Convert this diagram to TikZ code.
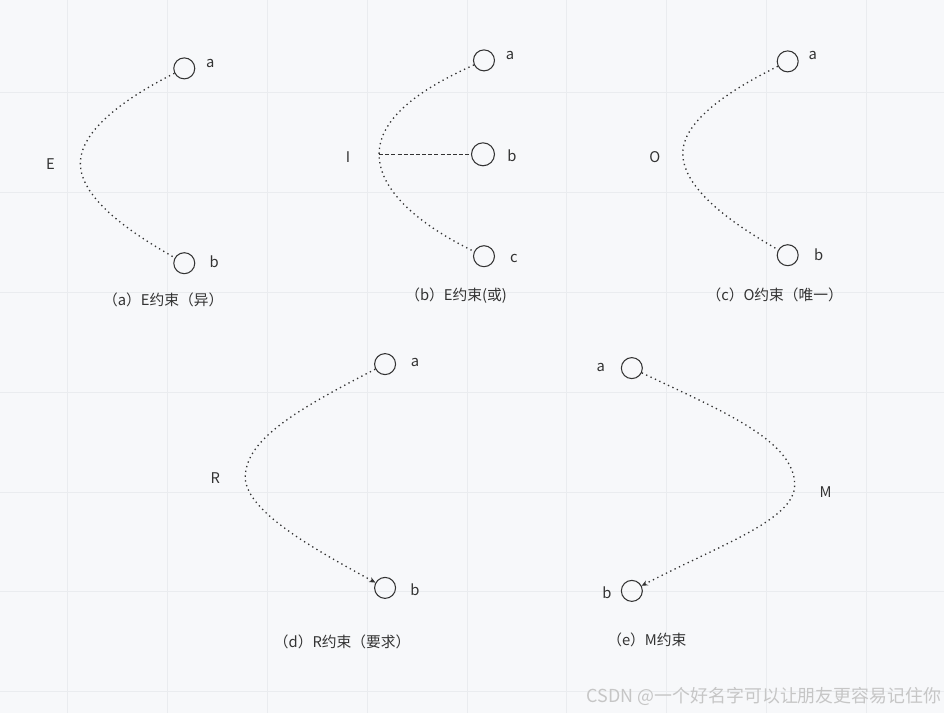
\documentclass[tikz,border=0pt]{standalone}
\usepackage{fontspec}
\setmainfont{Noto Sans CJK SC}
\usetikzlibrary{arrows.meta}

\definecolor{bgc}{HTML}{F7F8FA}
\definecolor{gridc}{HTML}{EAECEF}
\definecolor{ink}{HTML}{333333}
\definecolor{wmark}{HTML}{C6C6C6}

\tikzset{
  ent/.style={circle, draw=ink, line width=0.6pt, minimum size=0.42cm, inner sep=0pt},
  lbl/.style={text=ink, inner sep=0pt, font=\fontsize{8.4pt}{10pt}\selectfont},
  link/.style={draw=ink, line width=0.75pt, dash pattern=on 0.75pt off 2pt},
  dlink/.style={draw=ink, line width=0.6pt, dash pattern=on 2.3pt off 1.2pt},
  tip/.style={-{Stealth[length=3.5pt,width=3pt]}},
}

\begin{document}
\begin{tikzpicture}[x=0.02cm, y=-0.02cm]

% Tlo i siatka
\fill[bgc] (0,0) rectangle (944,713);
\foreach \gx in {67,167,...,867}
  \draw[gridc, line width=0.5pt] (\gx,0) -- (\gx,713);
\foreach \gy in {92,192,...,692}
  \draw[gridc, line width=0.5pt] (0,\gy) -- (944,\gy);
\useasboundingbox (0,0) rectangle (944,713);

% (a) E
\node[ent] (a1) at (184,68) {};
\node[ent] (b1) at (184,263) {};
\coordinate (v1) at (80,163);
\node[lbl] (la1) at (210,63) {a};
\node[lbl] (lb1) at (214,262) {b};
\node[lbl] (e1) at (50,164) {E};
\draw[link] (a1) .. controls (140,90) and (80,125) .. (v1)
  .. controls (80,200) and (135,235) .. (b1);
\node[lbl] (cap1) at (163,300) {（a）E约束（异）};

% (b) I
\node[ent] (a2) at (484,60) {};
\node[ent, minimum size=0.46cm] (b2) at (483,154) {};
\node[ent] (c2) at (484,256) {};
\coordinate (v2) at (379,154);
\node[lbl] (la2) at (510,55) {a};
\node[lbl] (lb2) at (512,155) {b};
\node[lbl] (lc2) at (514,258) {c};
\node[lbl] (i2) at (348,157) {I};
\draw[link] (a2) .. controls (440,80) and (379,110) .. (v2)
  .. controls (379,195) and (430,230) .. (c2);
\draw[dlink] (v2) -- (b2);
\node[lbl] (cap2) at (456,295) {（b）E约束(或)};

% (c) O
\node[ent] (a3) at (788,61) {};
\node[ent] (b3) at (788,255) {};
\coordinate (v3) at (683,153);
\node[lbl] (la3) at (813,55) {a};
\node[lbl] (lb3) at (819,255) {b};
\node[lbl] (o3) at (655,157) {O};
\draw[link] (a3) .. controls (744,83) and (683,116) .. (v3)
  .. controls (683,191) and (739,227) .. (b3);
\node[lbl] (cap3) at (775,295) {（c）O约束（唯一）};

% (d) R
\node[ent] (a4) at (385,364) {};
\node[ent] (b4) at (385,588) {};
\coordinate (v4) at (245,478);
\node[lbl] (la4) at (415,362) {a};
\node[lbl] (lb4) at (415,590) {b};
\node[lbl] (r4) at (215,478) {R};
\draw[link, tip] (a4) .. controls (294,411) and (245,440) .. (v4)
  .. controls (247,512) and (312,548) .. (b4);
\node[lbl] (cap4) at (342,642) {（d）R约束（要求）};

% (e) M
\node[ent] (a5) at (632,368) {};
\node[ent] (b5) at (632,591) {};
\coordinate (v5) at (795,485);
\node[lbl] (la5) at (601,367) {a};
\node[lbl] (lb5) at (607,593) {b};
\node[lbl] (m5) at (826,492) {M};
\draw[link, tip] (a5) .. controls (720,410) and (795,440) .. (v5)
  .. controls (795,520) and (720,545) .. (b5);
\node[lbl] (cap5) at (647,640) {（e）M约束};

% znak wodny
\node[text=wmark, inner sep=0pt, anchor=east, font=\fontsize{10.2pt}{12pt}\selectfont]
  (wm) at (942,697) {CSDN @一个好名字可以让朋友更容易记住你};

\end{tikzpicture}
\end{document}
